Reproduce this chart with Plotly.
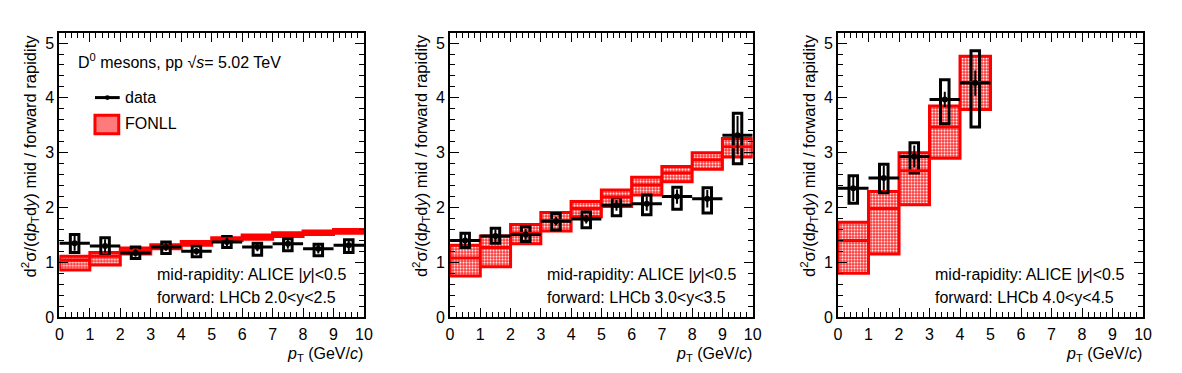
import plotly.graph_objects as go

W, H = 1182, 373

# ---------------- data ----------------
pt_centers = [0.5, 1.5, 2.5, 3.5, 4.5, 5.5, 6.5, 7.5, 8.5, 9.5]
x_ticks = [0, 1, 2, 3, 4, 5, 6, 7, 8, 9, 10]
y_ticks = [0, 1, 2, 3, 4, 5]

# panel 1: LHCb 2.0<y<2.5
data1 = [1.35, 1.30, 1.17, 1.28, 1.20, 1.37, 1.28, 1.34, 1.25, 1.31]
stat1 = [0.14, 0.12, 0.07, 0.07, 0.06, 0.08, 0.08, 0.09, 0.09, 0.11]
syst_lo1 = [1.18, 1.13, 1.07, 1.16, 1.10, 1.27, 1.13, 1.21, 1.12, 1.18]
syst_hi1 = [1.51, 1.45, 1.28, 1.37, 1.30, 1.47, 1.35, 1.43, 1.33, 1.41]
fonll_lo1 = [0.86, 0.95, 1.15, 1.25, 1.31, 1.40, 1.42, 1.47, 1.51, 1.53]
fonll_hi1 = [1.11, 1.18, 1.26, 1.32, 1.38, 1.45, 1.50, 1.54, 1.57, 1.60]
fonll_c1 = [1.04, 1.11, 1.21, 1.29, 1.35, 1.43, 1.46, 1.51, 1.54, 1.57]

# panel 2: LHCb 3.0<y<3.5
data2 = [1.40, 1.48, 1.51, 1.75, 1.79, 2.04, 2.07, 2.20, 2.16, 3.32]
stat2 = [0.12, 0.12, 0.10, 0.08, 0.08, 0.10, 0.13, 0.13, 0.16, 0.35]
syst_lo2 = [1.27, 1.35, 1.38, 1.59, 1.63, 1.85, 1.87, 1.97, 1.90, 2.80]
syst_hi2 = [1.53, 1.62, 1.65, 1.89, 1.92, 2.18, 2.23, 2.37, 2.36, 3.72]
fonll_lo2 = [0.75, 0.92, 1.34, 1.57, 1.83, 2.02, 2.23, 2.47, 2.70, 2.92]
fonll_hi2 = [1.31, 1.48, 1.69, 1.91, 2.11, 2.32, 2.55, 2.75, 3.00, 3.26]
fonll_c2 = [1.08, 1.27, 1.53, 1.76, 1.98, 2.19, 2.41, 2.63, 2.87, 3.11]

# panel 3: LHCb 4.0<y<4.5
data3 = [2.35, 2.54, 2.93, 3.97, 4.27]
stat3 = [0.23, 0.22, 0.20, 0.14, 0.23]
syst_lo3 = [2.08, 2.27, 2.63, 3.53, 3.47]
syst_hi3 = [2.58, 2.79, 3.18, 4.33, 4.86]
fonll_lo3 = [0.80, 1.15, 2.05, 2.90, 3.79]
fonll_hi3 = [1.73, 2.29, 3.00, 3.85, 4.76]
fonll_c3 = [1.40, 1.98, 2.67, 3.47, 4.28]

forward_labels = ["forward: LHCb 2.0&lt;y&lt;2.5",
                  "forward: LHCb 3.0&lt;y&lt;3.5",
                  "forward: LHCb 4.0&lt;y&lt;4.5"]
mid_label = "mid-rapidity: ALICE |<i>y</i>|&lt;0.5"
ytitle = "d<sup>2</sup>σ/(d<i>p</i><sub>T</sub>d<i>y</i>) mid / forward rapidity"
xtitle = "<i>p</i><sub>T</sub> (GeV/<i>c</i>)"

panels = [
    dict(d=data1, st=stat1, slo=syst_lo1, shi=syst_hi1, flo=fonll_lo1, fhi=fonll_hi1, fc=fonll_c1),
    dict(d=data2, st=stat2, slo=syst_lo2, shi=syst_hi2, flo=fonll_lo2, fhi=fonll_hi2, fc=fonll_c2),
    dict(d=data3, st=stat3, slo=syst_lo3, shi=syst_hi3, flo=fonll_lo3, fhi=fonll_hi3, fc=fonll_c3),
]

# ---------------- layout geometry (pixels) ----------------
ax_left_px = [56, 451, 843.3]
ax_right_px = [364, 757, 1151.7]
ax_top_px, ax_bot_px = 34, 325

FONT = "Liberation Sans, Arial, Helvetica, sans-serif"
TXT = 16

fig = go.Figure()

for i, p in enumerate(panels):
    xa = "x" if i == 0 else f"x{i+1}"
    ya = "y" if i == 0 else f"y{i+1}"
    n = len(p["d"])
    xc = pt_centers[:n]
    # FONLL band
    fig.add_trace(go.Bar(
        x=xc, base=p["flo"], y=[h - l for h, l in zip(p["fhi"], p["flo"])],
        width=1.0, xaxis=xa, yaxis=ya, showlegend=False, hoverinfo="skip",
        marker=dict(color="#ff3030", line=dict(color="#ff0000", width=3),
                    pattern=dict(shape=".", bgcolor="#ff3030", fgcolor="white",
                                 size=3, solidity=0.4, fillmode="replace")),
    ))
    # FONLL central value
    fig.add_trace(go.Scatter(
        x=xc, y=p["fc"], mode="markers", xaxis=xa, yaxis=ya, showlegend=False,
        hoverinfo="skip", marker=dict(size=0.1, color="red"),
        error_x=dict(type="constant", value=0.5, thickness=3, width=0, color="#ff0000"),
    ))
    # systematic boxes
    fig.add_trace(go.Bar(
        x=xc, base=p["slo"], y=[h - l for h, l in zip(p["shi"], p["slo"])],
        width=0.28, xaxis=xa, yaxis=ya, showlegend=False, hoverinfo="skip",
        marker=dict(color="rgba(0,0,0,0)", line=dict(color="black", width=3)),
    ))
    # data points
    fig.add_trace(go.Scatter(
        x=xc, y=p["d"], mode="markers", xaxis=xa, yaxis=ya, showlegend=False,
        marker=dict(size=6, color="black"),
        error_x=dict(type="constant", value=0.5, thickness=3, width=0, color="black"),
        error_y=dict(type="data", array=p["st"], thickness=2, width=0, color="black"),
    ))

axis_common = dict(
    showline=True, linecolor="black", linewidth=2, mirror="allticks",
    ticks="inside", ticklen=9, tickwidth=1.2, tickcolor="black",
    showgrid=False, zeroline=False,
    tickfont=dict(family=FONT, size=16, color="black"),
    minor=dict(ticks="inside", ticklen=5, tickwidth=1, tickcolor="black",
               dtick=0.2, showgrid=False),
)

layout = dict(
    width=W, height=H, margin=dict(l=0, r=0, t=0, b=0),
    paper_bgcolor="white", plot_bgcolor="white", barmode="overlay",
    font=dict(family=FONT, size=TXT, color="black"), showlegend=False,
)
y0 = 1 - ax_bot_px / H
y1 = 1 - ax_top_px / H
annotations = []
shapes = []
for i in range(3):
    xk = "xaxis" if i == 0 else f"xaxis{i+1}"
    yk = "yaxis" if i == 0 else f"yaxis{i+1}"
    xr = "x" if i == 0 else f"x{i+1}"
    yr = "y" if i == 0 else f"y{i+1}"
    layout[xk] = dict(axis_common, domain=[ax_left_px[i] / W, ax_right_px[i] / W],
                      range=[0, 10], tickvals=x_ticks, anchor=yr, ticklabelstandoff=2)
    layout[yk] = dict(axis_common, domain=[y0, y1], range=[0, 5.18],
                      tickvals=y_ticks, anchor=xr)
    annotations.append(dict(text=mid_label, xref=xr, yref=yr, x=3.13, y=0.77,
                            xanchor="left", yanchor="middle", showarrow=False,
                            font=dict(size=TXT)))
    annotations.append(dict(text=forward_labels[i], xref=xr, yref=yr, x=3.13, y=0.36,
                            xanchor="left", yanchor="middle", showarrow=False,
                            font=dict(size=TXT)))
    annotations.append(dict(text=ytitle, xref="paper", yref="paper",
                            x=(ax_left_px[i] - 30) / W, y=1 - 33 / H,
                            xanchor="center", yanchor="top", textangle=-90,
                            showarrow=False, font=dict(size=16.5)))
    annotations.append(dict(text=xtitle, xref="paper", yref="paper",
                            x=(ax_right_px[i] + 1) / W, y=1 - 363 / H,
                            xanchor="right", yanchor="middle",
                            showarrow=False, font=dict(size=TXT)))

# header + legend (panel 1)
annotations.append(dict(text="D<sup>0</sup> mesons, pp √<i>s</i>= 5.02 TeV",
                        xref="paper", yref="paper", x=73 / W, y=1 - 62 / H,
                        xanchor="left", yanchor="middle", showarrow=False,
                        font=dict(size=TXT)))
annotations.append(dict(text="data", xref="paper", yref="paper", x=120 / W, y=1 - 100 / H,
                        xanchor="left", yanchor="middle", showarrow=False, font=dict(size=TXT)))
annotations.append(dict(text="FONLL", xref="paper", yref="paper", x=120 / W, y=1 - 127 / H,
                        xanchor="left", yanchor="middle", showarrow=False, font=dict(size=TXT)))
shapes.append(dict(type="line", xref="paper", yref="paper", x0=92 / W, x1=117 / W,
                   y0=1 - 100 / H, y1=1 - 100 / H, line=dict(color="black", width=3)))
shapes.append(dict(type="circle", xref="paper", yref="paper", x0=102 / W, x1=107 / W,
                   y0=1 - 102.5 / H, y1=1 - 97.5 / H, fillcolor="black",
                   line=dict(color="black", width=0)))
shapes.append(dict(type="rect", xref="paper", yref="paper", x0=92 / W, x1=116 / W,
                   y0=1 - 137 / H, y1=1 - 118 / H, fillcolor="#ff7a7a",
                   line=dict(color="#ff0000", width=3)))

layout["annotations"] = annotations
layout["shapes"] = shapes
fig.update_layout(**layout)
fig.write_html("out.html")
